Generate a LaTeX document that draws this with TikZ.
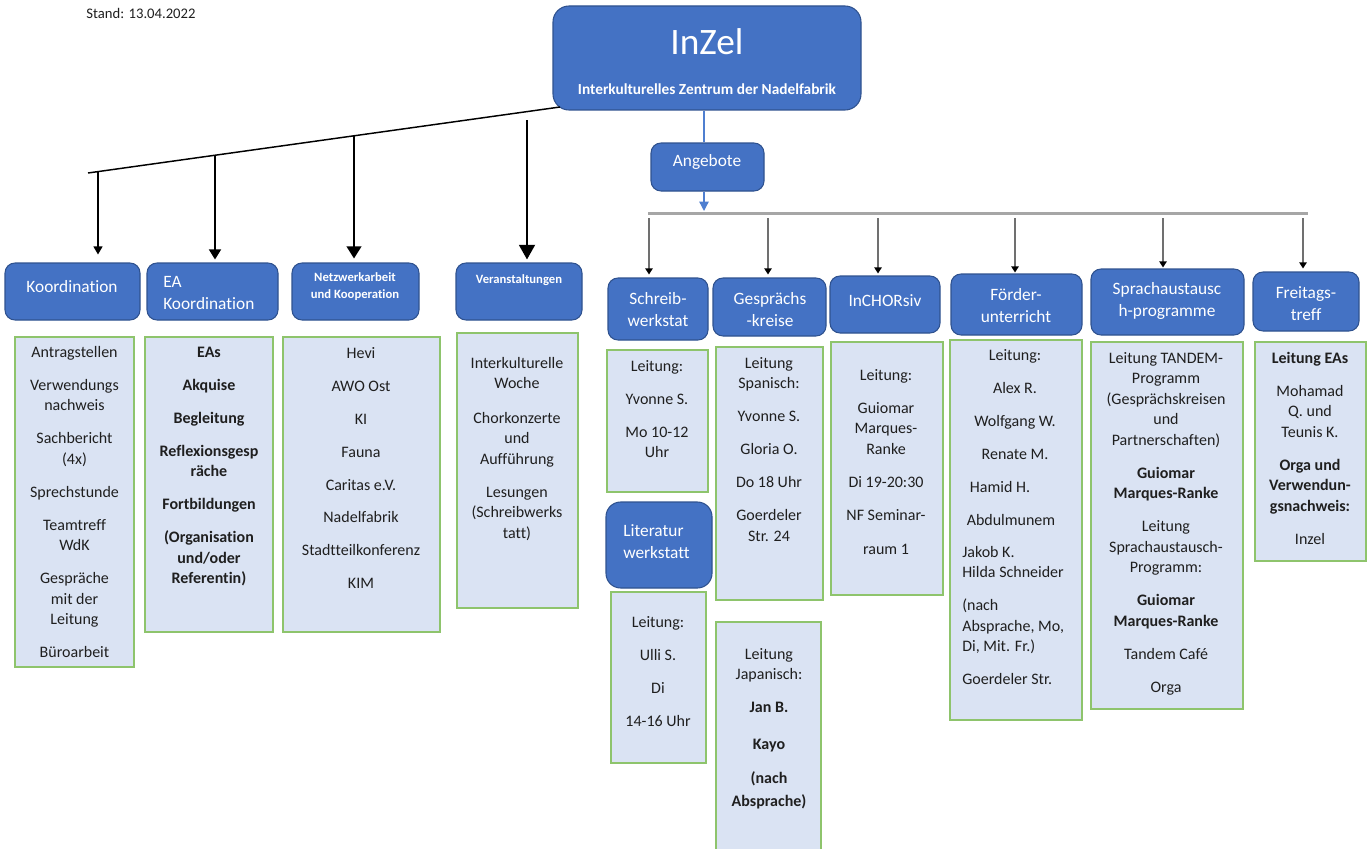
\documentclass[tikz,border=0pt]{standalone}
\usepackage{fontspec}
\setmainfont{Carlito}[Ligatures=NoCommon]
\usetikzlibrary{arrows.meta,fit}
\definecolor{bfill}{HTML}{4472C4}
\definecolor{bdraw}{HTML}{2F528F}
\definecolor{dfill}{HTML}{DAE3F3}
\definecolor{dgreen}{HTML}{8EC46C}
\definecolor{hgray}{HTML}{A6A6A6}
\definecolor{agray}{HTML}{707070}
\definecolor{txtc}{HTML}{1F1F1F}
\definecolor{lblue}{HTML}{4F7FD0}
\newcommand\pgap{\\[9.3pt]}
\begin{document}
\begin{tikzpicture}[x=0.75pt,y=-0.75pt,
  bluebox/.style={fill=bfill,draw=bdraw,line width=0.8pt,rounded corners=7.5pt,inner sep=0pt},
  detailbox/.style={fill=dfill,draw=dgreen,line width=1.1pt,inner sep=0pt},
  btext/.style={text=white,font=\fontsize{13}{16.5}\selectfont,align=center,inner sep=0pt},
  smalltext/.style={text=white,font=\fontsize{9.5}{12.75}\selectfont\bfseries,align=center,inner sep=0pt},
  dtext/.style={text=txtc,font=\fontsize{12}{15.4}\selectfont,align=center,inner sep=0pt,anchor=north},
  plaintext/.style={text=txtc,inner sep=0pt},
  mainline/.style={draw=black,line width=1.1pt},
  arrA/.style={draw=black,line width=0.9pt,-{Triangle[width=6.75pt,length=6pt]}},
  arrB/.style={draw=black,line width=1.1pt,-{Triangle[width=9pt,length=7.5pt]}},
  arrC/.style={draw=black,line width=1.2pt,-{Triangle[width=11pt,length=9pt]}},
  arrD/.style={draw=black,line width=1.4pt,-{Triangle[width=12pt,length=11pt]}},
  hline/.style={draw=hgray,line width=2.25pt},
  garrow/.style={draw=agray,line width=0.9pt,-{Triangle[width=5.5pt,length=4.5pt,fill=black,color=black]}},
  blueline/.style={draw=lblue,line width=1pt},
  bluearrow/.style={draw=lblue,line width=1pt,-{Triangle[width=7pt,length=7pt]}}
]
\useasboundingbox (0,0) rectangle (1371,849);
\clip (0,0) rectangle (1371,849);

\node[plaintext,font=\fontsize{11}{13}\selectfont] (stand) at (141,13) {Stand: 13.04.2022};

% ---------- top ----------
\node[bluebox,rounded corners=12pt,fit={(553,6)(861,110)}] (inzel) {};
\node[btext,font=\fontsize{28}{30}\selectfont] (inzelT) at (707,42) {InZel};
\node[btext,font=\fontsize{11.5}{14}\selectfont\bfseries] (inzelS) at (707,89) {Interkulturelles Zentrum der Nadelfabrik};

\node[bluebox,fit={(651,143)(764,191)}] (ang) {};
\node[btext] (angT) at (707,162) {Angebote};

% ---------- left branch boxes ----------
\node[bluebox,fit={(5,263)(140,320)}] (ko) {};
\node[btext] (koT) at (72,287) {Koordination};
\node[bluebox,fit={(147,263)(278,320)}] (eak) {};
\node[btext,align=left,anchor=west] (eakT) at (163,293) {EA\\Koordination};
\node[bluebox,fit={(292,263)(419,320)}] (nw) {};
\node[smalltext] (nwT) at (355,286.5) {Netzwerkarbeit\\und Kooperation};
\node[bluebox,fit={(456,263)(582,320)}] (va) {};
\node[smalltext] (vaT) at (519,280) {Veranstaltungen};

% detail boxes left
\node[detailbox,fit={(15,337)(134,667)}] (kod) {};
\node[dtext] (kodT) at (74.5,346) {Antragstellen\pgap Verwendungs\\nachweis\pgap Sachbericht\\(4x)\pgap Sprechstunde\pgap Teamtreff\\WdK\pgap Gespräche\\mit der\\Leitung\pgap Büroarbeit};

\node[detailbox,fit={(145,337)(273,632)}] (ead) {};
\node[dtext,font=\fontsize{12}{15.4}\selectfont\bfseries] (eadT) at (209,347) {EAs\pgap Akquise\pgap Begleitung\pgap Reflexionsgesp\\räche\pgap Fortbildungen\pgap (Organisation\\und/oder\\Referentin)};

\node[detailbox,fit={(283,337)(440,632)}] (nwd) {};
\node[dtext] (nwdT) at (361,347) {Hevi\pgap AWO Ost\pgap KI\pgap Fauna\pgap Caritas e.V.\pgap Nadelfabrik\pgap Stadtteilkonferenz\pgap KIM};

\node[detailbox,fit={(457,333)(578,608)}] (vad) {};
\node[dtext] (vadT) at (517,357) {Interkulturelle\\Woche\\[10.5pt]Chorkonzerte\\und\\Aufführung\pgap Lesungen\\(Schreibwerks\\tatt)};

% ---------- Angebote boxes ----------
\node[bluebox,fit={(608,278)(708,340)}] (sw) {};
\node[btext] (swT) at (658,310) {Schreib-\\werkstat};
\node[bluebox,fit={(713,278)(826,336)}] (gk) {};
\node[btext] (gkT) at (770,310) {Gesprächs\\-kreise};
\node[bluebox,fit={(830,276)(940,333)}] (ic) {};
\node[btext] (icT) at (885,301) {InCHORsiv};
\node[bluebox,fit={(951,274)(1082,335)}] (fu) {};
\node[btext] (fuT) at (1016,305.5) {Förder-\\unterricht};
\node[bluebox,fit={(1091,269)(1244,335)}] (sa) {};
\node[btext] (saT) at (1167,301) {Sprachaustausc\\h-programme};
\node[bluebox,fit={(1253,272)(1359,331)}] (ft) {};
\node[btext] (ftT) at (1306,303.5) {Freitags-\\treff};

% details
\node[detailbox,fit={(607,350)(708,492)}] (swd) {};
\node[dtext] (swdT) at (657,360) {Leitung:\pgap Yvonne S.\pgap Mo 10-12\\Uhr};

\node[bluebox,rounded corners=11pt,fit={(606,502)(712,588)}] (lw) {};
\node[btext,align=left,anchor=west] (lwT) at (623,541.5) {Literatur\\werkstatt};

\node[detailbox,fit={(611,592)(706,763)}] (lwd) {};
\node[dtext] (lwdT) at (658,616) {Leitung:\pgap Ulli S.\pgap Di\pgap 14-16 Uhr};

\node[detailbox,fit={(716,347)(823,600)}] (gkd) {};
\node[dtext] (gkdT) at (769,357) {Leitung\\Spanisch:\pgap Yvonne S.\pgap Gloria O.\pgap Do 18 Uhr\pgap Goerdeler\\Str. 24};

\node[detailbox,fit={(716,622)(821,860)}] (jpd) {};
\node[dtext] (jpdT) at (769,648) {Leitung\\Japanisch:\pgap \textbf{Jan B.}\\[12pt]\textbf{Kayo}\\[10pt]\textbf{(nach}\\[2pt]\textbf{Absprache)}};

\node[detailbox,fit={(831,342)(943,595)}] (icd) {};
\node[dtext] (icdT) at (886,369) {Leitung:\pgap Guiomar\\Marques-\\Ranke\pgap Di 19-20:30\pgap NF Seminar-\\[10.3pt]raum 1};

\node[detailbox,fit={(950,340)(1082,720)}] (fud) {};
\node[dtext] (fudT1) at (1015,349) {Leitung:\pgap Alex R.\pgap Wolfgang W.\pgap Renate M.};
\node[dtext,anchor=center] (fudT2) at (1000,487) {Hamid H.};
\node[dtext,anchor=center] (fudT3) at (1011,520) {Abdulmunem};
\node[dtext,align=left,anchor=north west] (fudT4) at (962,546) {Jakob K.\\Hilda Schneider\pgap (nach\\Absprache, Mo,\\Di, Mit. Fr.)\pgap Goerdeler Str.};

\node[detailbox,fit={(1091,342)(1243,709)}] (sad) {};
\node[dtext] (sadT) at (1166,352) {Leitung TANDEM-\\Programm\\(Gesprächskreisen\\und\\Partnerschaften)\pgap \textbf{Guiomar}\\\textbf{Marques-Ranke}\pgap Leitung\\Sprachaustausch-\\Programm:\pgap \textbf{Guiomar}\\\textbf{Marques-Ranke}\pgap Tandem Café\pgap Orga};

\node[detailbox,fit={(1255,342)(1366,561)}] (ftd) {};
\node[dtext] (ftdT) at (1310,352) {\textbf{Leitung EAs}\pgap Mohamad\\Q. und\\Teunis K.\pgap \textbf{Orga und}\\\textbf{Verwendun-}\\\textbf{gsnachweis:}\pgap Inzel};

% ---------- connectors ----------
\coordinate (lA) at (88,173);
\coordinate (lB) at (560,107);
\draw[mainline] (lA) -- (lB);
\coordinate (p1) at (98,171.6);
\coordinate (p2) at (215,155.2);
\coordinate (p3) at (354,135.8);
\coordinate (p4) at (527,120);
\draw[arrA,shorten >=6pt] (p1) -- (p1 |- ko.north);
\draw[arrB,shorten >=2.25pt] (p2) -- (p2 |- eak.north);
\draw[arrC,shorten >=3pt] (p3) -- (p3 |- nw.north);
\draw[arrD,shorten >=2.25pt] (p4) -- (p4 |- va.north);

\coordinate (hL) at (648,213);
\coordinate (hR) at (1308,213);
\draw[blueline] (ang.north -| hL) ++(56,0) coordinate (bx) (bx |- ang.north) -- (bx |- inzel.south);
\draw[hline] (hL) -- (hR);
\draw[bluearrow,shorten >=1.5pt] (bx |- ang.south) -- (bx |- hL);

\coordinate (c1) at (649,218);
\coordinate (c2) at (768,218);
\coordinate (c3) at (878,218);
\coordinate (c4) at (1015,218);
\coordinate (c5) at (1163,218);
\coordinate (c6) at (1303,218);
\draw[garrow,shorten >=2.25pt] (c1) -- (c1 |- sw.north);
\draw[garrow,shorten >=2.25pt] (c2) -- (c2 |- gk.north);
\draw[garrow,shorten >=1.5pt] (c3) -- (c3 |- ic.north);
\draw[garrow,shorten >=0.75pt] (c4) -- (c4 |- fu.north);
\draw[garrow,shorten >=0.75pt] (c5) -- (c5 |- sa.north);
\draw[garrow,shorten >=2.25pt] (c6) -- (c6 |- ft.north);
\end{tikzpicture}
\end{document}
